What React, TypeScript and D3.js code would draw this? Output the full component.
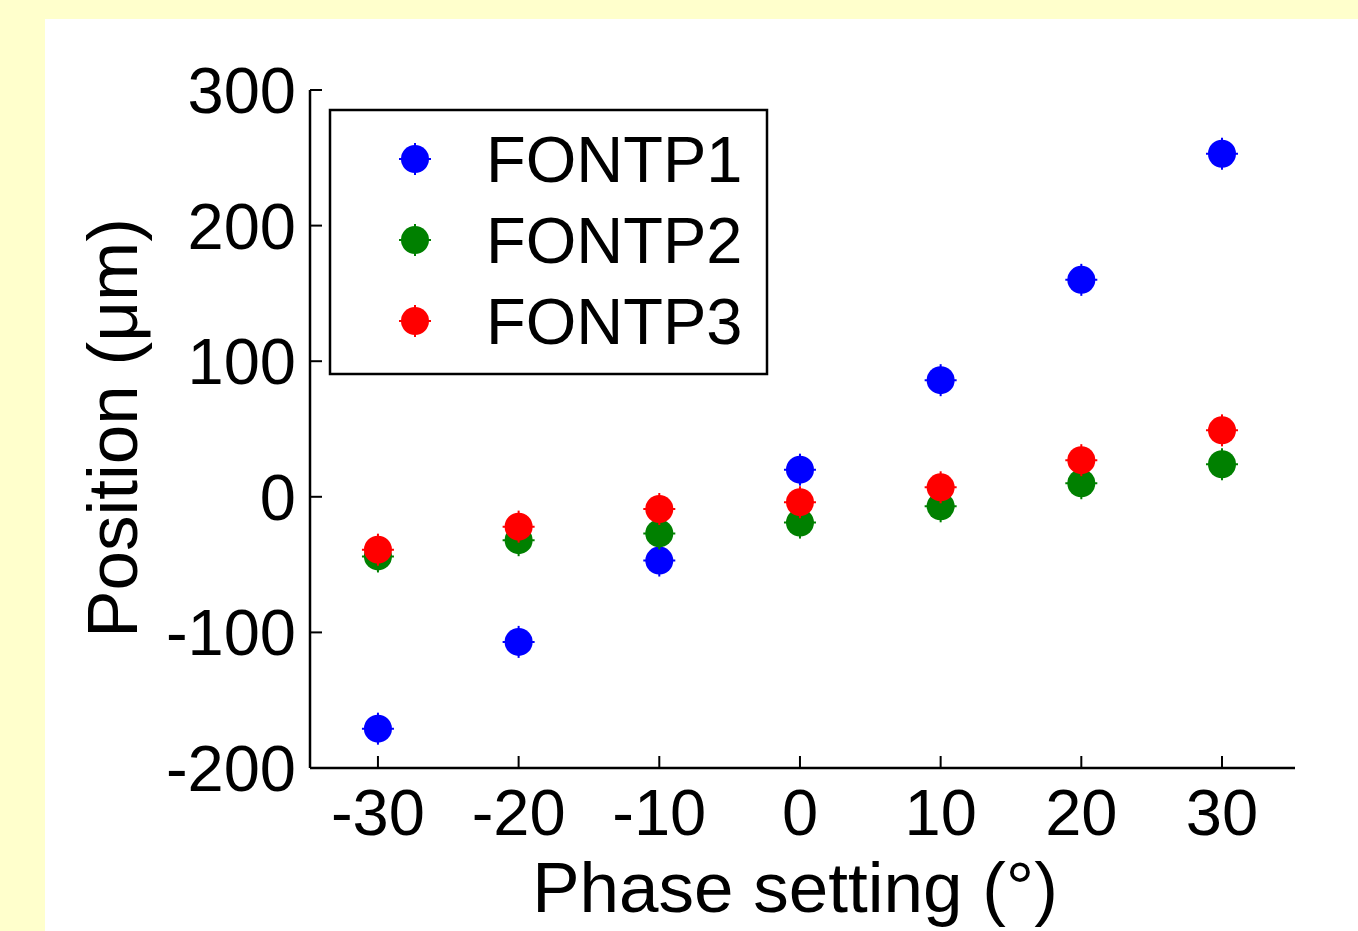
import React, { useEffect, useRef } from 'react';
import * as d3 from 'd3';

// phase settings (degrees)
const phases = [-30, -20, -10, 0, 10, 20, 30];
// measured positions (um)
const fontp1 = [-171, -107, -47, 20, 86, 160, 253];
const fontp2 = [-44, -32, -27, -19, -7, 10, 24];
const fontp3 = [-39, -22, -9, -4, 7, 27, 49];

const seriesNames = ['FONTP1', 'FONTP2', 'FONTP3'];
const seriesColors = ['#0000ff', '#008000', '#ff0000'];
const xTicks = [-30, -20, -10, 0, 10, 20, 30];
const yTicks = [-200, -100, 0, 100, 200, 300];

const FONT = '"Liberation Sans", Arial, sans-serif';

const App = () => {
  const svgRef = useRef<SVGSVGElement | null>(null);

  useEffect(() => {
    const svg = d3.select(svgRef.current);
    svg.selectAll('*').remove();

    const W = 1358;
    const H = 931;

    // backgrounds
    svg.append('rect').attr('width', W).attr('height', H).attr('fill', '#ffffcc');
    svg.append('rect').attr('x', 45).attr('y', 19).attr('width', W - 45).attr('height', H - 19).attr('fill', '#ffffff');

    const x = d3.scaleLinear().domain([-34.83, 35.19]).range([310, 1295]);
    const y = d3.scaleLinear().domain([-200, 300]).range([768, 90]);

    const tickLen = 12;

    // x axis
    const xAxis = svg.append('g');
    xAxis.append('line')
      .attr('x1', x.range()[0]).attr('x2', x.range()[1])
      .attr('y1', y(-200)).attr('y2', y(-200))
      .attr('stroke', '#000').attr('stroke-width', 2.5);
    xTicks.forEach(t => {
      xAxis.append('line')
        .attr('x1', x(t)).attr('x2', x(t))
        .attr('y1', y(-200)).attr('y2', y(-200) - tickLen)
        .attr('stroke', '#000').attr('stroke-width', 2);
      xAxis.append('text')
        .attr('x', x(t)).attr('y', 835)
        .attr('text-anchor', 'middle')
        .attr('font-family', FONT).attr('font-size', 65)
        .text(t);
    });

    // y axis
    const yAxis = svg.append('g');
    yAxis.append('line')
      .attr('x1', 310).attr('x2', 310)
      .attr('y1', y(-200)).attr('y2', y(300))
      .attr('stroke', '#000').attr('stroke-width', 2.5);
    yTicks.forEach(t => {
      yAxis.append('line')
        .attr('x1', 310).attr('x2', 310 + tickLen)
        .attr('y1', y(t)).attr('y2', y(t))
        .attr('stroke', '#000').attr('stroke-width', 2);
      yAxis.append('text')
        .attr('x', 296).attr('y', y(t) + 23)
        .attr('text-anchor', 'end')
        .attr('font-family', FONT).attr('font-size', 65)
        .text(t);
    });

    // axis titles
    svg.append('text')
      .attr('x', 795).attr('y', 912)
      .attr('text-anchor', 'middle')
      .attr('font-family', FONT).attr('font-size', 71)
      .text('Phase setting (°)');

    svg.append('text')
      .attr('transform', 'translate(137, 428) rotate(-90)')
      .attr('text-anchor', 'middle')
      .attr('font-family', FONT).attr('font-size', 71)
      .text('Position (μm)');

    // marker helper
    const marker = (g, cx, cy, color) => {
      g.append('circle').attr('cx', cx).attr('cy', cy).attr('r', 14).attr('fill', color);
      g.append('line').attr('x1', cx - 16).attr('x2', cx + 16).attr('y1', cy).attr('y2', cy)
        .attr('stroke', color).attr('stroke-width', 2);
      g.append('line').attr('x1', cx).attr('x2', cx).attr('y1', cy - 16).attr('y2', cy + 16)
        .attr('stroke', color).attr('stroke-width', 2);
    };

    const allSeries = [fontp1, fontp2, fontp3];
    const pts = svg.append('g');
    allSeries.forEach((vals, i) => {
      vals.forEach((v, j) => marker(pts, x(phases[j]), y(v), seriesColors[i]));
    });

    // legend
    const leg = svg.append('g');
    leg.append('rect')
      .attr('x', 330).attr('y', 110).attr('width', 437).attr('height', 264)
      .attr('fill', '#fff').attr('stroke', '#000').attr('stroke-width', 2.5);
    seriesNames.forEach((name, i) => {
      const cy = 159 + i * 81;
      marker(leg, 415, cy, seriesColors[i]);
      leg.append('text')
        .attr('x', 486).attr('y', cy + 23)
        .attr('font-family', FONT).attr('font-size', 65)
        .text(name);
    });
  }, []);

  return (
    <svg ref={svgRef} width={1358} height={931} style={{ position: 'absolute', left: 0, top: 0 }}></svg>
  );
};

export default App;
